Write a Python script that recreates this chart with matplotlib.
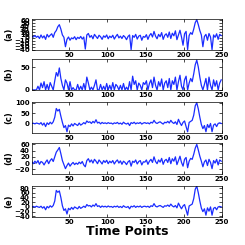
import numpy as np
import matplotlib
matplotlib.use("Agg")
import matplotlib.pyplot as plt

# sample times (every other time point)
t = np.arange(1, 251, 2)

sig_a = [5, 3, 8, 2, 6, -2, 10, 0, 7, -5, 12, 3, 9, 14, 2, 18, 25, 38, 45, 30,
         10, 2, -30, -5, 3, -8, 0, -3, 4, -6, 2, -2, 5, -4, 3, -38, 10, 15, 2, 8,
         -3, 12, 5, -2, 9, 4, -5, 7, 2, 10, -3, 6, 1, 9, -4, 5, 12, 0, 6, -2,
         8, 3, -6, 5, 10, -40, 8, 2, 12, -4, 6, 9, -8, 5, 2, 11, -5, 8, 15, 3,
         22, 6, -3, 12, 4, 18, -5, 9, 14, 2, 20, -2, 16, 7, 24, -6, 10, 26, 3, -25,
         14, 22, -40, 8, 18, 12, 30, 52, 62, 45, 25, 10, -30, 5, 12, -8, 15, 3, -40, 10,
         2, 14, -5, 12, 8]

sig_b = [0, 0, 0, 0, 8, 0, 15, 5, 18, 0, 12, 0, 16, 8, 0, 20, 38, 30, 48, 25,
         10, 0, 22, 15, 0, 18, 0, 5, 0, 0, 12, 0, 8, 0, 14, 0, 28, 15, 0, 6,
         0, 10, 22, 0, 0, 12, 0, 8, 0, 14, 0, 10, 0, 16, 0, 12, 8, 0, 10, 0,
         14, 0, 6, 0, 18, 0, 30, 12, 20, 0, 15, 10, 0, 16, 12, 20, 0, 14, 22, 5,
         28, 10, 0, 18, 8, 24, 0, 15, 20, 5, 25, 0, 20, 12, 28, 0, 18, 32, 8, 0,
         22, 30, 0, 15, 25, 18, 35, 55, 65, 50, 28, 10, 0, 12, 25, 0, 28, 10, 0, 22,
         8, 20, 0, 15, 22]

sig_c = [0, 1, -2, 2, 0, -3, 4, -8, 2, -15, 3, -5, 6, -2, 8, 30, 72, 60, 68, 35,
         5, -20, -10, -40, -8, -15, -2, -12, 0, -5, -10, 2, -8, -3, 4, -2, 12, 5, 8, 0,
         10, 3, 18, 2, 6, -2, 5, 0, 3, -1, 4, 0, 2, -3, 3, 0, 5, -2, 2, -4,
         6, 0, -3, 2, -10, 4, 0, 6, -2, 3, 0, 5, -3, 2, 4, 0, 3, -2, 6, 2,
         15, 4, 0, 5, 8, 2, -3, 6, 3, 10, 2, 15, 5, 0, 8, -5, 20, 3, -10, 5,
         12, -15, -40, 5, 10, 15, 40, 85, 100, 70, 30, -5, -25, -10, -40, -5, -20, 0, -40, -8,
         -2, -15, 0, 3, 0]

sig_d = [4, -2, 6, 0, 8, -4, 5, 2, -6, 3, 10, -2, 8, 14, 5, 20, 35, 42, 50, 30,
         8, -5, -18, -8, 0, -10, -3, 2, -5, 0, -4, 3, -2, 5, -6, -12, 8, 14, 3, 10,
         0, 12, 6, -2, 10, 4, -3, 8, 2, 9, -2, 6, 1, 8, -3, 5, 10, 0, 7, -4,
         6, 2, -5, 4, 8, -10, 6, 2, 10, -3, 5, 8, -6, 4, 3, 10, -4, 6, 12, 2,
         20, 5, -2, 10, 3, 15, -4, 8, 12, 2, 18, -2, 14, 6, 20, -5, 8, 22, 2, -10,
         12, 18, -15, 6, 15, 12, 28, 48, 60, 42, 22, 6, -12, 4, 10, -8, 12, 2, -18, 8,
         0, 12, -6, 10, 6]

sig_e = [0, 2, -1, 3, 0, -2, 3, -5, 1, -12, 2, -4, 5, -1, 6, 25, 70, 62, 68, 40,
         5, -15, -8, -30, -6, -12, -2, -10, 0, -4, -8, 2, -6, -2, 3, -2, 10, 4, 6, 0,
         8, 3, 14, 2, 5, -2, 4, 0, 3, -1, 4, 0, 2, -2, 3, 0, 4, -2, 2, -3,
         5, 0, -2, 2, -8, 3, 0, 5, -2, 3, 0, 4, -2, 2, 3, 0, 3, -2, 5, 2,
         14, 3, 0, 4, 6, 2, -2, 5, 3, 8, 2, 12, 4, 0, 6, -4, 16, 3, -8, 4,
         10, -12, -35, 4, 8, 12, 35, 75, 88, 60, 25, -5, -20, -8, -35, -4, -18, 0, -35, -6,
         -2, -12, 0, 2, 0]

labels = ["(a)", "(b)", "(c)", "(d)", "(e)"]
series = [sig_a, sig_b, sig_c, sig_d, sig_e]
ylims = [(-42, 64), (0, 68), (-45, 105), (-35, 65), (-42, 90)]
yticks = [np.arange(-40, 61, 10), [0, 50], [0, 50, 100], np.arange(-20, 61, 20), np.arange(-40, 81, 20)]
bottoms = [0.795, 0.633, 0.458, 0.29, 0.115]

fig = plt.figure(figsize=(2.45, 2.45), dpi=100)
for lab, y, yl, yt, b in zip(labels, series, ylims, yticks, bottoms):
    ax = fig.add_axes([0.13, b, 0.776, 0.127])
    ax.plot(t, y, color='#1a2cff', lw=0.9)
    ax.set_xlim(1, 250)
    ax.set_ylim(*yl)
    ax.set_xticks([50, 100, 150, 200, 250])
    ax.set_yticks(yt)
    ax.tick_params(direction='in', top=True, right=True, length=2, width=0.5,
                   labelsize=5, pad=1.5)
    for tl in ax.get_xticklabels() + ax.get_yticklabels():
        tl.set_fontweight('bold')
    for s in ax.spines.values():
        s.set_linewidth(0.5)
    ax.set_ylabel(lab, fontsize=6, fontweight='bold', labelpad=1)
    ax.yaxis.set_label_coords(-0.1, 0.5)

ax.set_xlabel("Time Points", fontsize=9, fontweight='bold', labelpad=0)
fig.savefig("out.png", dpi=100)
